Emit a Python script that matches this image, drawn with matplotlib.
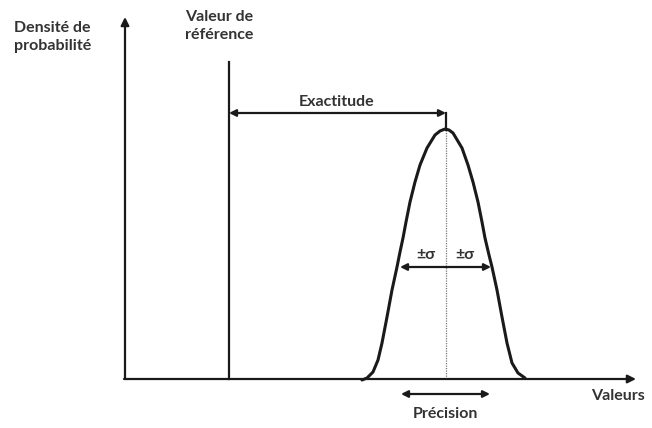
import matplotlib
matplotlib.use("Agg")
import matplotlib.pyplot as plt

# curve (pixel units, y grows downward)
curve_x = [362, 367, 373, 378, 382, 387, 392, 397, 400, 403, 406, 410, 415, 420,
           427, 435, 440, 445, 449, 453, 462, 468, 473, 478, 482, 485, 489,
           492, 497, 502, 507, 512, 518, 525]
curve_y = [380, 378, 372, 360, 343, 317, 290, 267, 252, 238, 222, 202, 182, 165,
           148, 135, 131, 129, 130, 133, 148, 165, 182, 202, 222, 238, 255,
           267, 290, 317, 343, 363, 373, 378]

origin = (125, 379)
x_end = 636
y_end = 17
ref_x = 229
ref_top = 62
peak_x = 446
peak_y = 130
exact_y = 113
sigma_y = 267
sigma_left = 400
sigma_right = 491
prec_y = 394
prec_left = 401
prec_right = 490

ink = "#1a1a1a"
txt = "#333333"
fs = 11.5
plt.rcParams["font.family"] = ["Lato", "DejaVu Sans"]

fig = plt.figure(figsize=(6.52, 4.28), dpi=100)
ax = fig.add_axes([0, 0, 1, 1])
ax.set_xlim(0, 652)
ax.set_ylim(428, 0)
ax.axis("off")

arrow = dict(arrowstyle="-|>", color=ink, lw=1.6, mutation_scale=12, shrinkA=0, shrinkB=0)
both = dict(arrowstyle="<|-|>", color=ink, lw=1.6, mutation_scale=10, shrinkA=0, shrinkB=0)
half = dict(arrowstyle="-|>", color=ink, lw=1.6, mutation_scale=10, shrinkA=0, shrinkB=0)

# axes
ax.annotate("", xy=(origin[0], y_end), xytext=origin, arrowprops=arrow)
ax.annotate("", xy=(x_end, origin[1]), xytext=(origin[0] - 1, origin[1]), arrowprops=arrow)

# reference line
ax.plot([ref_x, ref_x], [ref_top, origin[1]], color=ink, lw=1.6)

# distribution curve
ax.plot(curve_x, curve_y, color=ink, lw=2.2, solid_capstyle="round", solid_joinstyle="round")
ax.plot([peak_x, peak_x], [peak_y, origin[1]], color="#777777", lw=0.9, ls=(0, (1, 1)))
ax.plot([peak_x, peak_x], [exact_y, peak_y], color=ink, lw=1.6)

# exactitude
ax.annotate("", xy=(ref_x, exact_y), xytext=(peak_x, exact_y), arrowprops=both)
ax.text(337, 102, "Exactitude", ha="center", va="center", fontsize=fs,
        fontweight="bold", color=txt)

# sigma arrows
ax.annotate("", xy=(sigma_left, sigma_y), xytext=(peak_x, sigma_y), arrowprops=half)
ax.annotate("", xy=(sigma_right, sigma_y), xytext=(peak_x, sigma_y), arrowprops=half)
ax.text(426, 255, "±σ", ha="center", va="center", fontsize=fs, fontweight="bold", color=txt)
ax.text(465, 255, "±σ", ha="center", va="center", fontsize=fs, fontweight="bold", color=txt)

# precision
ax.annotate("", xy=(prec_left, prec_y), xytext=(prec_right, prec_y), arrowprops=both)
ax.text(445, 414, "Précision", ha="center", va="center", fontsize=fs,
        fontweight="bold", color=txt)

# labels
ax.text(14, 37, "Densité de\nprobabilité", ha="left", va="center", fontsize=fs,
        fontweight="bold", color=txt, linespacing=1.3)
ax.text(185, 26, "Valeur de\nréférence", ha="left", va="center", fontsize=fs,
        fontweight="bold", color=txt, linespacing=1.3)
ax.text(591, 396, "Valeurs", ha="left", va="center", fontsize=fs,
        fontweight="bold", color=txt)

fig.savefig("out.png", dpi=100, facecolor="white")
